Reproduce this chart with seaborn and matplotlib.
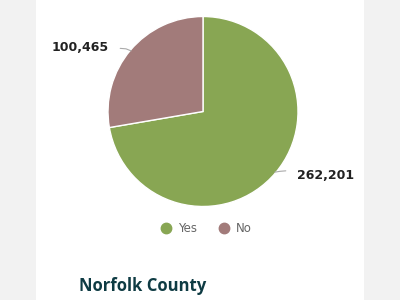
import numpy as np
import matplotlib
matplotlib.use("Agg")
import matplotlib.pyplot as plt
from matplotlib.lines import Line2D
import seaborn as sns

# data
categories = ["Yes", "No"]
values = [262201, 100465]
value_labels = ["262,201", "100,465"]
colors = ["#88a653", "#a27b7a"]
title = "Norfolk County"

sns.set_theme(style="white")
plt.rcParams['font.family'] = ['DejaVu Sans']

fig = plt.figure(figsize=(4, 3), dpi=100, facecolor="#f2f2f2")

# white card
card = fig.add_axes([36/400, 0, 328/400, 1])
card.set_facecolor("white")
card.set_xticks([]); card.set_yticks([])
for s in card.spines.values():
    s.set_visible(False)

ax = fig.add_axes([108/400, (300-206.5)/300, 190/400, 190/300])
wedges, _ = ax.pie(values, colors=colors, startangle=90, counterclock=False,
                   radius=1.0, wedgeprops=dict(edgecolor="white", linewidth=1.0))
ax.set_xlim(-1, 1); ax.set_ylim(-1, 1)
ax.set_aspect("equal")
ax.axis("off")

for w, lab in zip(wedges, value_labels):
    ang = np.deg2rad((w.theta1 + w.theta2) / 2)
    c, s = np.cos(ang), np.sin(ang)
    sx = np.sign(c)
    ax.plot([c*0.99, c*1.06, c*1.14], [s*0.99, s*1.0 + 0.015, s*1.0 + 0.02],
            color="#aaaaaa", lw=0.8, clip_on=False, solid_capstyle="round")
    ax.text(c*1.3, s*1.04, lab, ha="left" if sx > 0 else "right", va="center",
            fontsize=9, fontweight="bold", color="#222222", clip_on=False)

handles = [Line2D([], [], marker="o", linestyle="none", markersize=7.5,
                  markerfacecolor=col, markeredgecolor=col) for col in colors]
leg = fig.legend(handles, categories, loc="center", bbox_to_anchor=(206/400, 1-229/300),
                 ncol=2, frameon=False, handletextpad=0.5, columnspacing=1.8,
                 fontsize=8.5, handlelength=1.0)
for t in leg.get_texts():
    t.set_color("#666666")

fig.text(79/400, 1-286/300, title, ha="left", va="center", fontsize=12,
         fontweight="bold", color="#0e3b43", family=["Open Sans", "DejaVu Sans"])

fig.savefig("out.png", dpi=100, facecolor=fig.get_facecolor())
